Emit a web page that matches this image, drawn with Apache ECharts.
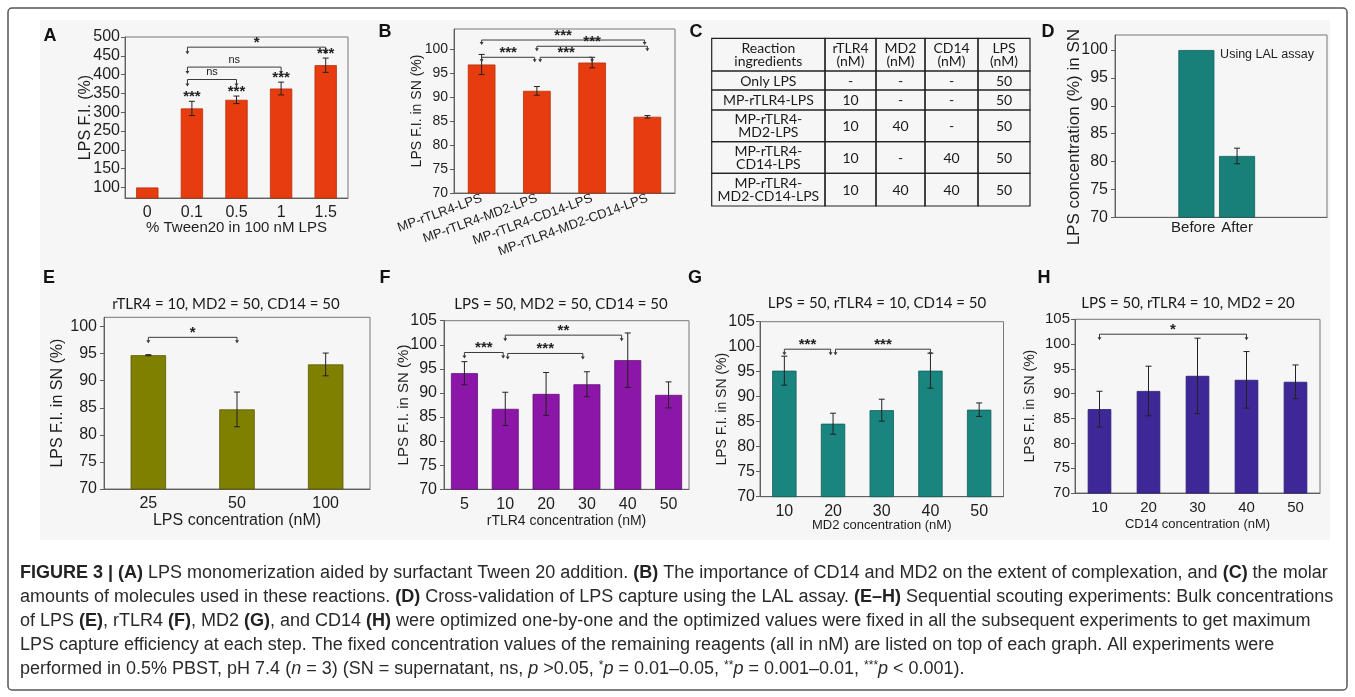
<!DOCTYPE html>
<html><head><meta charset="utf-8">
<script src="https://cdn.jsdelivr.net/npm/echarts@6/dist/echarts.min.js"></script>
<style>html,body{margin:0;padding:0;background:#fff}#c{width:1355px;height:697px}</style>
</head><body><div id="c"></div>
<script>
// ================= DATA =================
// Panel A
const aCats = ['0', '0.1', '0.5', '1', '1.5'];
const aVals = [100, 310, 333, 363, 425];
const aErr = [0, 19, 10, 17, 19];
const aTicks = [100, 150, 200, 250, 300, 350, 400, 450, 500];
const aStars = ['', '***', '***', '***', '***'];
const aSig = [[0.9, 4, 473, '*'], [0.9, 3, 420, 'ns'], [0.9, 2, 387, 'ns']];
// Panel B
const bCats = ['MP-rTLR4-LPS', 'MP-rTLR4-MD2-LPS', 'MP-rTLR4-CD14-LPS', 'MP-rTLR4-MD2-CD14-LPS'];
const bVals = [96.8, 91.3, 97.2, 85.9];
const bErr = [2.1, 0.9, 1.1, 0.25];
const bTicks = [70, 75, 80, 85, 90, 95, 100];
const bSig = [[0, 2.95, 101.9, '***'], [1, 3.0, 100.6, '***'], [0, 0.96, 98.3, '***'], [1.06, 2, 98.3, '***']];
// Panel C (table)
const cHeader = ['Reaction\ningredients', 'rTLR4\n(nM)', 'MD2\n(nM)', 'CD14\n(nM)', 'LPS\n(nM)'];
const cRows = [
  ['Only LPS', '-', '-', '-', '50'],
  ['MP-rTLR4-LPS', '10', '-', '-', '50'],
  ['MP-rTLR4-\nMD2-LPS', '10', '40', '-', '50'],
  ['MP-rTLR4-\nCD14-LPS', '10', '-', '40', '50'],
  ['MP-rTLR4-\nMD2-CD14-LPS', '10', '40', '40', '50']
];
// Panel D
const dCats = ['Before', 'After'];
const dVals = [100, 81];
const dErr = [0, 1.4];
const dTicks = [70, 75, 80, 85, 90, 95, 100];
// Panel E
const eCats = ['25', '50', '100'];
const eVals = [94.7, 84.7, 93.0];
const eErr = [0.1, 3.2, 2.1];
const eTicks = [70, 75, 80, 85, 90, 95, 100];
const eSig = [[0, 1, 98.0, '*']];
// Panel F
const fCats = ['5', '10', '20', '30', '40', '50'];
const fVals = [94.1, 86.7, 89.8, 91.8, 96.8, 89.6];
const fErr = [2.4, 3.45, 4.45, 2.6, 5.65, 2.7];
const fSig = [[0, 0.95, 98.4, '***'], [1.06, 2.9, 98.2, '***'], [1.0, 3.85, 102.0, '**']];
// Panel G
const gCats = ['10', '20', '30', '40', '50'];
const gVals = [95.2, 84.6, 87.3, 95.2, 87.4];
const gErr = [2.9, 2.1, 2.2, 3.5, 1.35];
const gSig = [[0, 0.95, 99.5, '***'], [1.05, 3, 99.5, '***']];
// Panel H
const hCats = ['10', '20', '30', '40', '50'];
const hVals = [86.9, 90.55, 93.6, 92.8, 92.4];
const hErr = [3.6, 5.0, 7.6, 5.7, 3.4];
const hSig = [[0, 3, 102.0, '*']];
const ticks105 = [70, 75, 80, 85, 90, 95, 100, 105];

// ================= LAYOUT / STYLE =================
const FONT = "'Liberation Sans', Arial, sans-serif";
const TFONT = "Lato, 'Open Sans', sans-serif";
const AX = '#5f5f5f';
const TXT = '#1e1e1e';

const tblColW = [113.3, 51, 49, 53, 52];
const tblRowH = [32.7, 19, 20, 31.7, 31.6, 32.7];

const grids = [], xAxes = [], yAxes = [], series = [];

function errRender(params, api) {
  const x = api.value(0), lo = api.value(1), hi = api.value(2);
  const p1 = api.coord([x, hi]), p2 = api.coord([x, lo]);
  const w = 3, st = {stroke: '#222', lineWidth: 1};
  return {type: 'group', children: [
    {type: 'line', shape: {x1: p1[0], y1: p1[1], x2: p2[0], y2: p2[1]}, style: st},
    {type: 'line', shape: {x1: p1[0] - w, y1: p1[1], x2: p1[0] + w, y2: p1[1]}, style: st},
    {type: 'line', shape: {x1: p2[0] - w, y1: p2[1], x2: p2[0] + w, y2: p2[1]}, style: st}
  ]};
}
function bracketRender(sig, tick) {
  return function (params, api) {
    const s = sig[params.dataIndex];
    const a0 = api.coord([0, s[2]]), a1 = api.coord([1, s[2]]);
    const step = a1[0] - a0[0];
    const x1 = a0[0] + s[0] * step, x2 = a0[0] + s[1] * step, y = a0[1];
    const st = {stroke: '#3a3a3a', lineWidth: 1, fill: null};
    const tri = (x) => ({type: 'polygon', shape: {points: [[x - 2, y + tick - 2], [x + 2, y + tick - 2], [x, y + tick + 1]]}, style: {fill: '#3a3a3a'}});
    const isNs = s[3] === 'ns';
    return {type: 'group', children: [
      {type: 'polyline', shape: {points: [[x1, y + tick], [x1, y], [x2, y], [x2, y + tick]]}, style: st},
      tri(x1), tri(x2),
      {type: 'text', x: (x1 + x2) / 2, y: isNs ? y - 2 : y + 3, style: {text: s[3], textAlign: 'center', textVerticalAlign: 'bottom', fill: '#222', font: (isNs ? 'normal 11px ' : 'bold 15px ') + FONT}}
    ]};
  };
}

function addPanel(p) {
  const gi = grids.length;
  grids.push(Object.assign({show: true, borderColor: '#777', borderWidth: 1, containLabel: false, outerBoundsMode: 'none'}, p.grid));
  xAxes.push(Object.assign({
    gridIndex: gi, type: 'category', data: p.cats,
    axisLine: {show: true, onZero: false, lineStyle: {color: AX}},
    axisTick: {show: false},
    axisLabel: {fontSize: p.xLabelSize, color: TXT, fontFamily: FONT, margin: p.xMargin || 7, rotate: p.rotate || 0, interval: 0},
    splitLine: {show: false},
    name: p.xName || '', nameLocation: 'middle', nameGap: p.xNameGap || 20, nameMoveOverlap: false,
    nameTextStyle: {fontSize: p.xNameSize || 14, color: TXT, fontFamily: FONT}
  }, p.xAxisOverride || {}));
  yAxes.push({
    gridIndex: gi, type: 'value', min: p.min, max: p.max,
    axisLine: {show: true, onZero: false, lineStyle: {color: AX}},
    axisTick: {show: true, inside: false, length: 4, customValues: p.ticks, lineStyle: {color: AX}},
    axisLabel: {customValues: p.ticks, fontSize: p.yLabelSize, color: TXT, fontFamily: FONT, margin: p.yMargin || 6},
    splitLine: {show: false},
    name: p.yName, nameLocation: 'middle', nameGap: p.yNameGap, nameMoveOverlap: false,
    nameTextStyle: Object.assign({fontSize: p.yNameSize, color: TXT, fontFamily: FONT}, p.yNamePad ? {padding: p.yNamePad} : {})
  });
  const barData = p.barData || p.vals;
  series.push({type: 'bar', xAxisIndex: gi, yAxisIndex: gi, data: barData, barWidth: p.barW,
    itemStyle: {color: p.color, borderColor: p.border, borderWidth: 0.8}, silent: true});
  const errData = [];
  p.vals.forEach((v, i) => { if (p.err[i] > 0) errData.push([p.xs ? p.xs[i] : i, v - p.err[i], v + p.err[i]]); });
  series.push({type: 'custom', xAxisIndex: gi, yAxisIndex: gi, data: errData, renderItem: errRender, silent: true, z: 5});
  if (p.sig) {
    series.push({type: 'custom', xAxisIndex: gi, yAxisIndex: gi, data: p.sig.map(s => [0, s[2]]),
      renderItem: bracketRender(p.sig, p.tick || 5), silent: true, z: 6});
  }
  if (p.stars) {
    series.push({type: 'custom', xAxisIndex: gi, yAxisIndex: gi,
      data: p.vals.map((v, i) => [i, v + p.err[i]]),
      renderItem: function (params, api) {
        const t = p.stars[params.dataIndex];
        if (!t) return null;
        const pt = api.coord([api.value(0), api.value(1)]);
        return {type: 'text', x: pt[0], y: pt[1] + 3, style: {text: t, textAlign: 'center', textVerticalAlign: 'bottom', fill: '#222', font: 'bold 15px ' + FONT}};
      }, silent: true, z: 6});
  }
}

// A
addPanel({grid: {left: 125, top: 37, width: 223, height: 161}, cats: aCats, vals: aVals, err: aErr, ticks: aTicks,
  min: 72, max: 500, color: '#E63C0F', border: '#B8300B', barW: '50%', yLabelSize: 16, xLabelSize: 16, yMargin: 5,
  yName: 'LPS F.I. (%)', yNameSize: 16, yNameGap: 31, xName: '% Tween20 in 100 nM LPS', xNameSize: 15, xNameGap: 22,
  sig: aSig, stars: aStars, tick: 6});
// B
addPanel({grid: {left: 454, top: 29, width: 221, height: 164}, cats: bCats, vals: bVals, err: bErr, ticks: bTicks,
  min: 70, max: 104.2, color: '#E63C0F', border: '#B8300B', barW: '50%', yLabelSize: 14, xLabelSize: 13, rotate: 20, xMargin: 5,
  yName: 'LPS F.I. in SN (%)', yNameSize: 14, yNameGap: 30, sig: bSig, tick: 4});
// D
addPanel({grid: {left: 1115, top: 35, width: 212, height: 182.3}, cats: null, vals: dVals, err: dErr, ticks: dTicks,
  xs: [1, 2], barData: dVals.map((v, i) => [i + 1, v]),
  xAxisOverride: {type: 'value', min: -1.0, max: 4.21, data: null,
    axisLabel: {customValues: [0.92, 2], formatter: (v) => (v < 1.5 ? dCats[0] : dCats[1]), fontSize: 15, color: TXT, fontFamily: FONT, margin: 3}},
  min: 70, max: 102.7, color: '#187F79', border: '#0F5F5A', barW: 36, yLabelSize: 16, xLabelSize: 16, yMargin: 7,
  yName: 'LPS concentration (%) in SN', yNameSize: 17, yNameGap: 32, yNamePad: [0, 22, 0, 0]});
// E
addPanel({grid: {left: 104, top: 317.3, width: 266, height: 171.7}, cats: eCats, vals: eVals, err: eErr, ticks: eTicks,
  min: 70, max: 101.7, color: '#7F7F00', border: '#5A5A00', barW: '40%', yLabelSize: 16, xLabelSize: 16, yMargin: 7,
  yName: 'LPS F.I. in SN (%)', yNameSize: 16, yNameGap: 38, xName: 'LPS concentration (nM)', xNameSize: 16, xNameGap: 24,
  sig: eSig, tick: 5});
// F
addPanel({grid: {left: 444, top: 320.7, width: 245, height: 168.6}, cats: fCats, vals: fVals, err: fErr, ticks: ticks105,
  min: 70, max: 105, color: '#8C16A8', border: '#64107A', barW: '66%', yLabelSize: 16, xLabelSize: 16, yMargin: 7,
  yName: 'LPS F.I. in SN (%)', yNameSize: 15, yNameGap: 33, xName: 'rTLR4 concentration (nM)', xNameSize: 14, xNameGap: 25,
  sig: fSig, tick: 5});
// G
addPanel({grid: {left: 760, top: 321.7, width: 243.5, height: 175}, cats: gCats, vals: gVals, err: gErr, ticks: ticks105,
  min: 70, max: 105, color: '#1A847E', border: '#10605B', barW: '50%', yLabelSize: 16, xLabelSize: 16, yMargin: 5,
  yName: 'LPS F.I. in SN (%)', yNameSize: 14, yNameGap: 31, xName: 'MD2 concentration (nM)', xNameSize: 13, xNameGap: 22,
  sig: gSig, tick: 5});
// H
addPanel({grid: {left: 1075, top: 319.3, width: 245, height: 173.7}, cats: hCats, vals: hVals, err: hErr, ticks: ticks105,
  min: 70, max: 105, color: '#3E2898', border: '#2B1B70', barW: '48%', yLabelSize: 15, xLabelSize: 15, yMargin: 5,
  yName: 'LPS F.I. in SN (%)', yNameSize: 14, yNameGap: 38, xName: 'CD14 concentration (nM)', xNameSize: 13, xNameGap: 25,
  sig: hSig, tick: 5});

// C table as custom series on a hidden grid
(function () {
  const gi = grids.length;
  const tw = tblColW.reduce((a, b) => a + b, 0), th = tblRowH.reduce((a, b) => a + b, 0);
  grids.push({left: 711.7, top: 38.3, width: tw, height: th, show: false, containLabel: false, outerBoundsMode: 'none'});
  xAxes.push({gridIndex: gi, type: 'value', min: 0, max: tw, show: false});
  yAxes.push({gridIndex: gi, type: 'value', min: 0, max: th, inverse: true, show: false});
  const all = [cHeader].concat(cRows);
  const cells = [], texts = [];
  let y0 = 0;
  all.forEach((row, r) => {
    let x0 = 0;
    row.forEach((t, c) => {
      cells.push([x0, y0, x0 + tblColW[c], y0 + tblRowH[r]]);
      texts.push(t);
      x0 += tblColW[c];
    });
    y0 += tblRowH[r];
  });
  series.push({type: 'custom', xAxisIndex: gi, yAxisIndex: gi, data: cells, silent: true,
    renderItem: function (params, api) {
      const p0 = api.coord([api.value(0), api.value(1)]);
      const p1 = api.coord([api.value(2), api.value(3)]);
      return {type: 'group', children: [
        {type: 'rect', shape: {x: p0[0], y: p0[1], width: p1[0] - p0[0], height: p1[1] - p0[1]}, style: {fill: null, stroke: '#222', lineWidth: 1.2}},
        {type: 'text', x: (p0[0] + p1[0]) / 2, y: (p0[1] + p1[1]) / 2 + 0.5,
          style: {text: texts[params.dataIndex], textAlign: 'center', textVerticalAlign: 'middle', fill: '#1a1a1a',
            font: '14px ' + TFONT, lineHeight: 13}}
      ]};
    }});
})();

// ================= ANNOTATION TEXT =================
const letters = [['A', 50, 36], ['B', 385, 32], ['C', 696, 32], ['D', 1048, 32], ['E', 49, 278], ['F', 385, 278], ['G', 695, 278], ['H', 1044, 278]];
const panelTitles = [['rTLR4 = 10, MD2 = 50, CD14 = 50', 226, 304], ['LPS = 50, MD2 = 50, CD14 = 50', 561, 304], ['LPS = 50, rTLR4 = 10, CD14 = 50', 877, 303], ['LPS = 50, rTLR4 = 10, MD2 = 20', 1188, 303]];
const caption = [
  '{b|FIGURE 3 | (A)} LPS monomerization aided by surfactant Tween 20 addition. {b|(B)} The importance of CD14 and MD2 on the extent of complexation, and {b|(C)} the molar',
  'amounts of molecules used in these reactions. {b|(D)} Cross-validation of LPS capture using the LAL assay. {b|(E–H)} Sequential scouting experiments: Bulk concentrations',
  'of LPS {b|(E)}, rTLR4 {b|(F)}, MD2 {b|(G)}, and CD14 {b|(H)} were optimized one-by-one and the optimized values were fixed in all the subsequent experiments to get maximum',
  'LPS capture efficiency at each step. The fixed concentration values of the remaining reagents (all in nM) are listed on top of each graph. All experiments were',
  'performed in 0.5% PBST, pH 7.4 ({i|n} = 3) (SN = supernatant, ns, {i|p} >0.05, {s|*}{i|p} = 0.01–0.05, {s|**}{i|p} = 0.001–0.01, {s|***}{i|p} < 0.001).'
];
const capY = [573, 597, 621, 645, 669];
const CAPF = 18;

const graphics = [
  {type: 'rect', z: -20, shape: {x: 40, y: 20, width: 1290, height: 520}, style: {fill: '#f6f6f6'}},
  {type: 'rect', z: -19, shape: {x: 8, y: 8, width: 1339, height: 682, r: 4}, style: {fill: null, stroke: '#555', lineWidth: 1.5}}
];
letters.forEach(l => graphics.push({type: 'text', x: l[1], y: l[2], style: {text: l[0], textAlign: 'center', textVerticalAlign: 'middle', fill: '#111', font: 'bold 18px ' + FONT}}));
panelTitles.forEach(t => graphics.push({type: 'text', x: t[1], y: t[2], style: {text: t[0], textAlign: 'center', textVerticalAlign: 'middle', fill: '#1a1a1a', font: '15px ' + TFONT}}));
graphics.push({type: 'text', x: 1267, y: 55, style: {text: 'Using LAL assay', textAlign: 'center', textVerticalAlign: 'middle', fill: '#222', font: '12.5px ' + FONT}});
caption.forEach((c, i) => graphics.push({type: 'text', x: 20, y: capY[i], style: {
  text: c, textAlign: 'left', textVerticalAlign: 'middle', fill: '#2a2a2a', font: CAPF + 'px ' + FONT,
  rich: {b: {fontWeight: 'bold', fontSize: CAPF, fontFamily: FONT, fill: '#222'}, i: {fontStyle: 'italic', fontSize: CAPF, fontFamily: FONT, fill: '#2a2a2a'}, s: {fontSize: 12, fontFamily: FONT, fill: '#2a2a2a', padding: [0, 0, 7, 0]}}
}}));

const chart = echarts.init(document.getElementById('c'));
chart.setOption({
  animation: false,
  grid: grids, xAxis: xAxes, yAxis: yAxes, series: series,
  graphic: {elements: graphics}
});
</script></body></html>
